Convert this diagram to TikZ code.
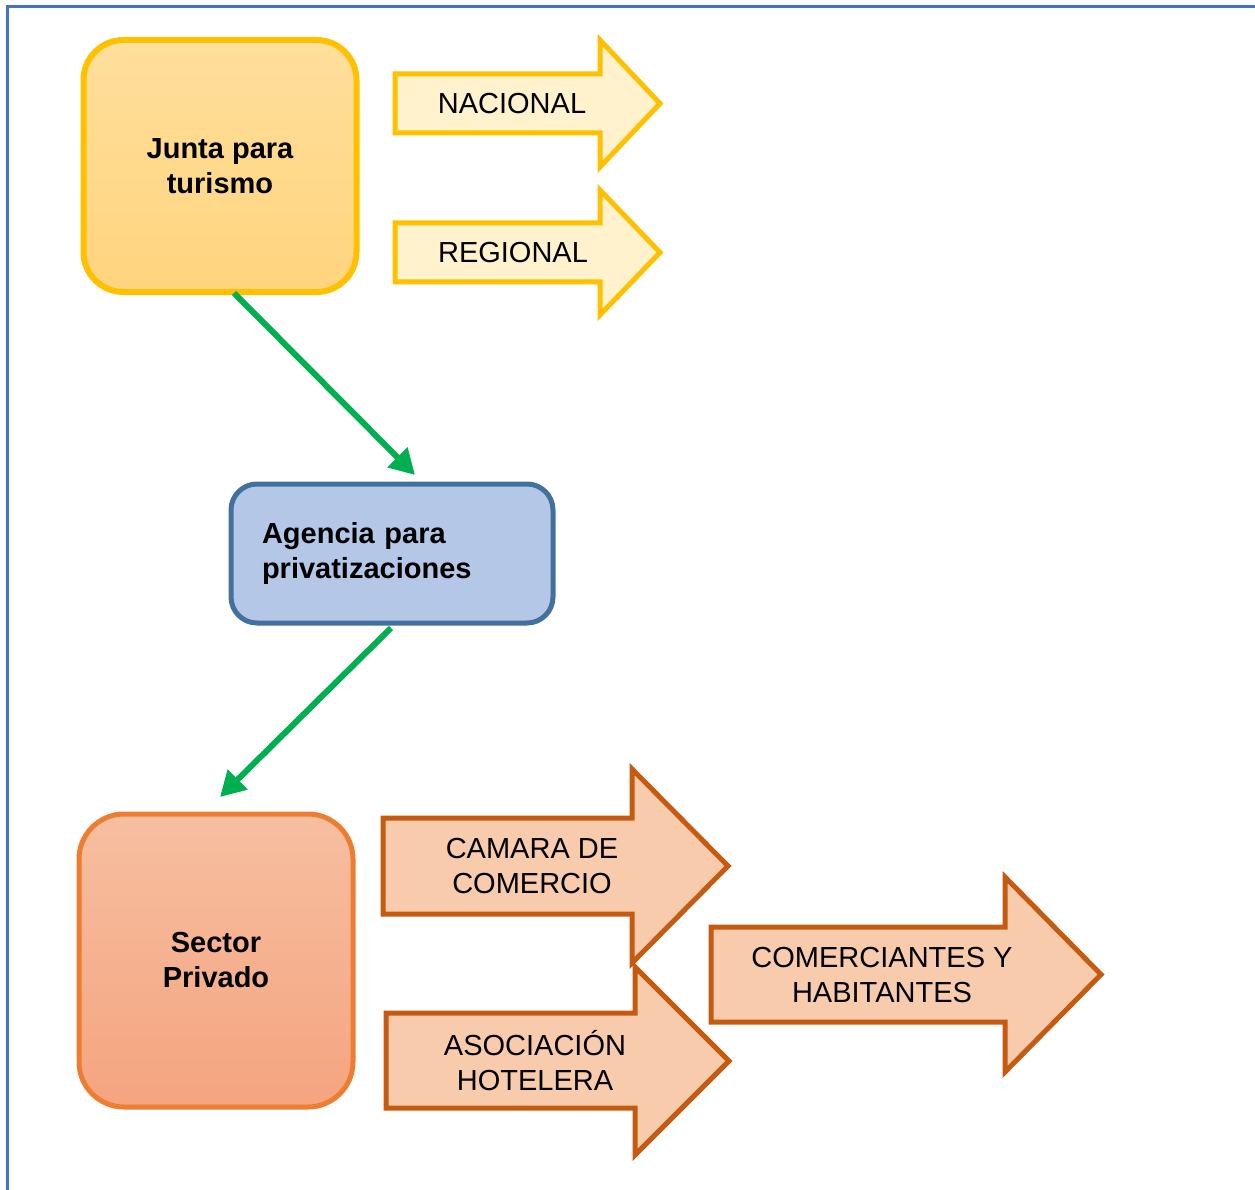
\documentclass[tikz,border=0pt]{standalone}
\usepackage{fontspec}
\setmainfont{Liberation Sans}
\usetikzlibrary{arrows.meta}
\definecolor{frameblue}{HTML}{4472C4}
\definecolor{gold}{HTML}{FFC000}
\definecolor{goldfill}{HTML}{FFF2CC}
\definecolor{juntatop}{HTML}{FFDF9C}
\definecolor{juntabot}{HTML}{FFD47E}
\definecolor{agfill}{HTML}{B4C7E7}
\definecolor{agline}{HTML}{41719C}
\definecolor{orangeline}{HTML}{ED7D31}
\definecolor{sectop}{HTML}{F6BFA0}
\definecolor{secbot}{HTML}{F5A47F}
\definecolor{rust}{HTML}{C55A11}
\definecolor{peach}{HTML}{F8CBAD}
\definecolor{grn}{HTML}{00B050}
\tikzset{
  txt/.style={font=\fontsize{29}{35}\selectfont, align=center, inner sep=0pt},
  btxt/.style={font=\fontsize{29}{35}\selectfont\bfseries},
  yarrow/.style={draw=gold, fill=goldfill, line width=5pt, line join=miter},
  oarrow/.style={draw=rust, fill=peach, line width=5pt, line join=miter},
  link/.style={draw=grn, line width=6pt, -{Triangle[length=25pt,width=27pt]}}
}
\begin{document}
\begin{tikzpicture}[x=1pt,y=-1pt]
\useasboundingbox (0,0) rectangle (1255,1190);
% frame
\draw[frameblue, line width=2.2pt] (7.5,1190) -- (7.5,6.5) -- (1255,6.5);

% boxes
\node[btxt, align=center, draw=gold, line width=6pt, rounded corners=40pt,
      top color=juntatop, bottom color=juntabot,
      minimum width=273pt, minimum height=252pt, inner sep=0pt]
      (junta) at (220,166) {Junta para\\turismo};
\node[btxt, align=left, draw=agline, line width=5pt, rounded corners=26pt,
      fill=agfill, text width=260pt, inner xsep=31pt, inner ysep=0pt,
      minimum height=139pt]
      (agencia) at (392,553.5) {Agencia para\\privatizaciones};
\node[btxt, align=center, draw=orangeline, line width=5pt, rounded corners=45pt,
      top color=sectop, bottom color=secbot,
      minimum width=274pt, minimum height=293pt, inner sep=0pt]
      (sector) at (216,960.5) {Sector\\Privado};

% yellow arrows
\draw[yarrow] (395,74) -- (600,74) -- (600,40) -- (660,103.5) -- (600,167) -- (600,133) -- (395,133) -- cycle;
\node[txt] (nacional) at (512,103.5) {NACIONAL};
\draw[yarrow] (395,223) -- (600,223) -- (600,190) -- (660,252.5) -- (600,315) -- (600,282) -- (395,282) -- cycle;
\node[txt] (regional) at (513,252.5) {REGIONAL};

% orange arrows
\draw[oarrow] (383,818) -- (632,818) -- (632,769) -- (728,866) -- (632,963) -- (632,914) -- (383,914) -- cycle;
\node[txt] (camara) at (532,866) {CAMARA DE\\COMERCIO};
\draw[oarrow] (386,1013) -- (635,1013) -- (635,967) -- (729,1061) -- (635,1155) -- (635,1108) -- (386,1108) -- cycle;
\node[txt] (asoc) at (535,1060.5) {ASOCIACIÓN\\HOTELERA};
\draw[oarrow] (711,927) -- (1005,927) -- (1005,877) -- (1101,974.5) -- (1005,1072) -- (1005,1022) -- (711,1022) -- cycle;
\node[txt] (comer) at (882,975) {COMERCIANTES Y\\HABITANTES};

% green connectors
\coordinate (s1) at (234,293);
\coordinate (e1) at (415,475);
\coordinate (s2) at (391,628);
\coordinate (e2) at (220,797);
\draw[link] (s1) -- (e1);
\draw[link] (s2) -- (e2);
\end{tikzpicture}
\end{document}
